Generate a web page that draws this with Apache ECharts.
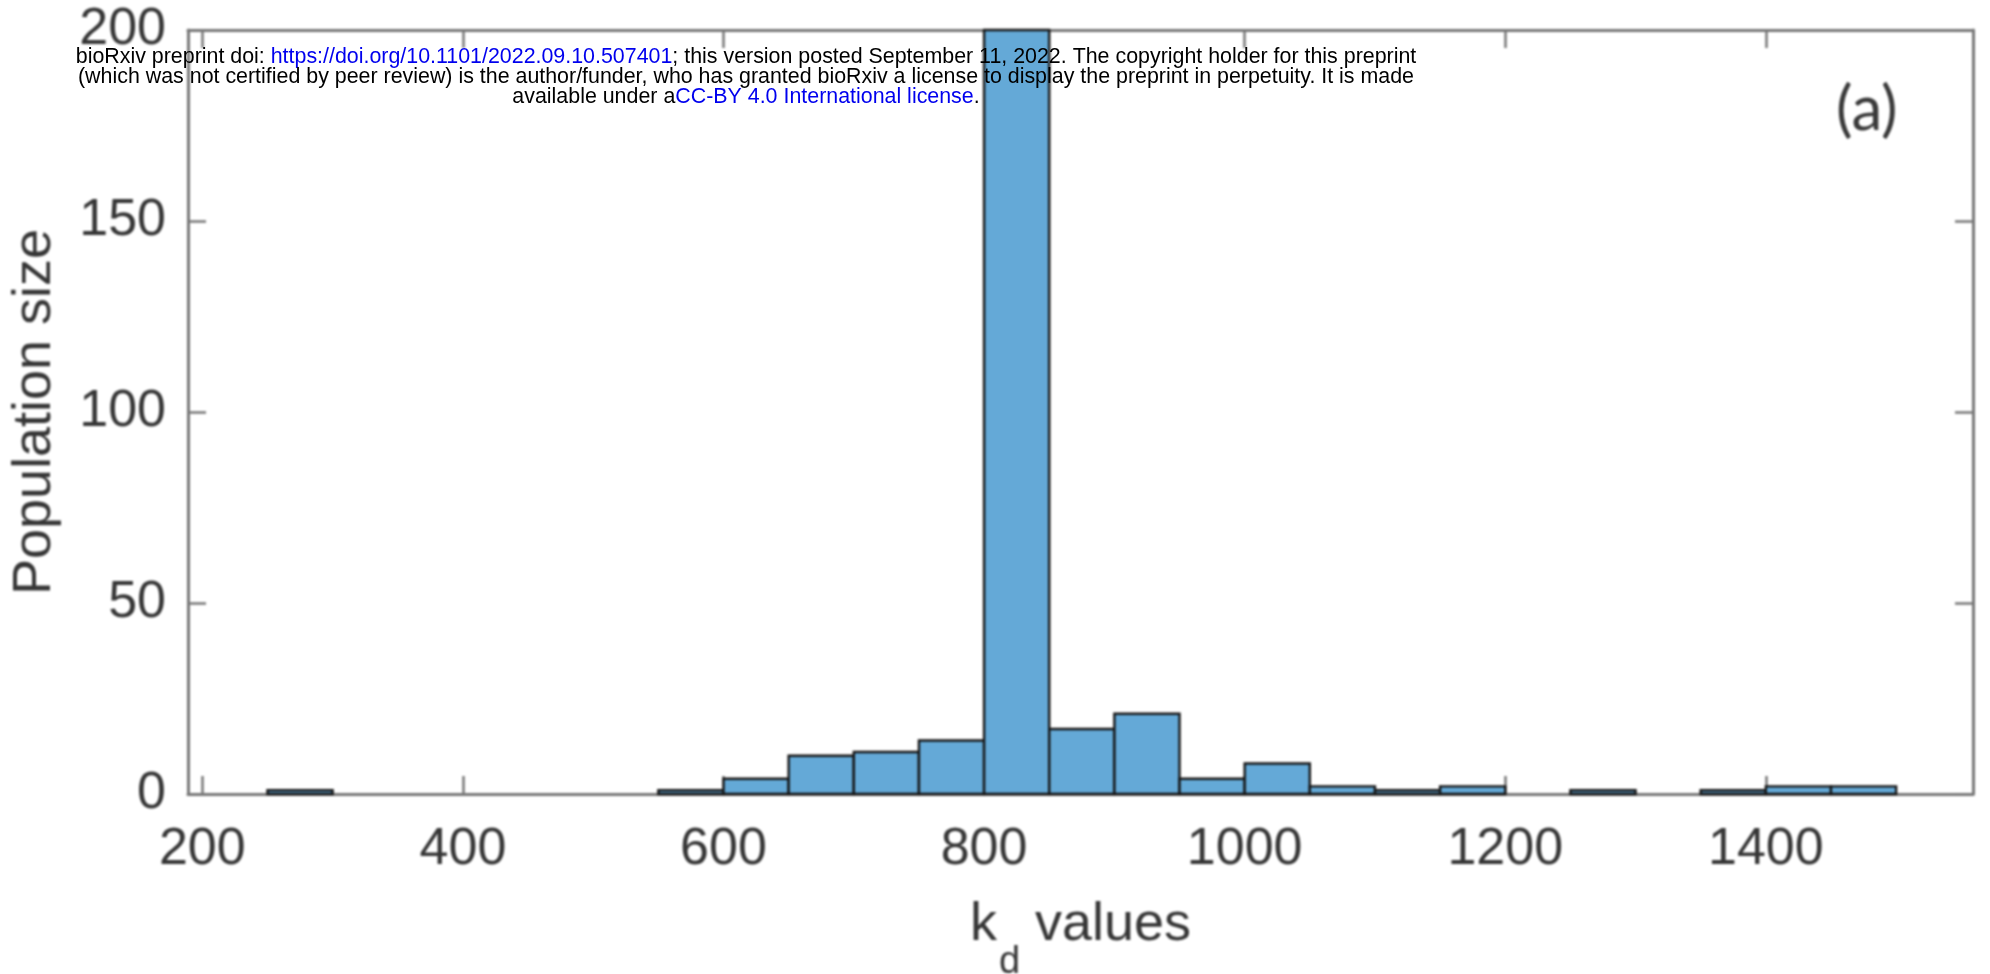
<!DOCTYPE html>
<html>
<head>
<meta charset="utf-8">
<title>Population size by k_d value</title>
<script src="https://cdn.jsdelivr.net/npm/echarts@6/dist/echarts.min.js"></script>
<style>
  html, body { margin: 0; padding: 0; background: #ffffff; }
  #stage { position: relative; width: 1990px; height: 974px; }
  #chart { position: absolute; left: 0; top: 0; width: 1990px; height: 974px; filter: blur(0.9px); }
  #stamp { position: absolute; left: 0; top: 0; width: 1990px; height: 974px; pointer-events: none; }
</style>
</head>
<body>
<div id="stage">
  <div id="chart"></div>
  <div id="stamp"></div>
</div>
<script>
// Histogram of k_d values: left edge of each occupied bin and its count
const binWidth = 50;
const binStarts = [250, 550, 600, 650, 700, 750, 800, 850, 900, 950, 1000, 1050, 1100, 1150, 1250, 1350, 1400, 1450];
const counts    = [1,   1,   4,   10,  11,  14,  200, 17,  21,  4,   8,    2,    1,    2,    1,    1,    2,    2];

// Axis limits and tick positions
const xLimits = [189, 1559];
const xTicks = [200, 400, 600, 800, 1000, 1200, 1400];
const yLimits = [0, 200];
const yStep = 50;

const xTitle = 'k';
const xTitleSub = 'd';
const xTitleRest = ' values';
const yTitle = 'Population size';
const panelTag = '(a)';

const stampLines = [
  ['bioRxiv preprint doi: ', 'https://doi.org/10.1101/2022.09.10.507401', '; this version posted September 11, 2022. The copyright holder for this preprint'],
  ['(which was not certified by peer review) is the author/funder, who has granted bioRxiv a license to display the preprint in perpetuity. It is made', '', ''],
  ['available under a', 'CC-BY 4.0 International license', '.']
];

const AX = '#777777';
const TXT = '#363636';
const FONT = '"Liberation Sans", Arial, Helvetica, sans-serif';

const bins = binStarts.map((s, i) => [s, s + binWidth, counts[i]]);

const frameAxis = {
  type: 'value',
  axisLine: { show: true, onZero: false, lineStyle: { color: AX, width: 3 } },
  axisTick: { show: true, inside: true, length: 18, lineStyle: { color: AX, width: 2.5 } },
  splitLine: { show: false }
};

const chart = echarts.init(document.getElementById('chart'), null, { renderer: 'canvas' });
chart.setOption({
  animation: false,
  backgroundColor: '#ffffff',
  grid: { left: 188, right: 17, top: 30, bottom: 180, containLabel: false, outerBoundsMode: 'none' },
  xAxis: [
    Object.assign({}, frameAxis, {
      position: 'bottom',
      min: xLimits[0], max: xLimits[1],
      axisTick: Object.assign({}, frameAxis.axisTick, { customValues: xTicks }),
      axisLabel: {
        customValues: xTicks, fontSize: 52, fontFamily: FONT, color: TXT, margin: 30,
        formatter: function (v) { return String(v); }
      },
      name: '{k|' + xTitle + '}{d|' + xTitleSub + '}{v|' + xTitleRest + '}',
      nameLocation: 'middle',
      nameGap: 104,
      nameTextStyle: {
        rich: {
          k: { fontSize: 54, fontFamily: FONT, color: TXT, verticalAlign: 'top' },
          d: { fontSize: 38, fontFamily: FONT, color: TXT, padding: [46, 0, 0, 2], verticalAlign: 'top' },
          v: { fontSize: 54, fontFamily: FONT, color: TXT, verticalAlign: 'top' }
        }
      }
    }),
    Object.assign({}, frameAxis, {
      position: 'top',
      min: xLimits[0], max: xLimits[1],
      axisTick: Object.assign({}, frameAxis.axisTick, { customValues: xTicks }),
      axisLabel: { show: false }
    })
  ],
  yAxis: [
    Object.assign({}, frameAxis, {
      position: 'left',
      min: yLimits[0], max: yLimits[1], interval: yStep,
      axisLabel: { fontSize: 52, fontFamily: FONT, color: TXT, margin: 22 },
      name: yTitle,
      nameLocation: 'middle',
      nameGap: 126,
      nameTextStyle: { fontSize: 54, fontFamily: FONT, color: TXT }
    }),
    Object.assign({}, frameAxis, {
      position: 'right',
      min: yLimits[0], max: yLimits[1], interval: yStep,
      axisLabel: { show: false }
    })
  ],
  series: [{
    type: 'custom',
    xAxisIndex: 0,
    yAxisIndex: 0,
    data: bins,
    encode: { x: [0, 1], y: 2 },
    renderItem: function (params, api) {
      const topLeft = api.coord([api.value(0), api.value(2)]);
      const bottomRight = api.coord([api.value(1), 0]);
      return {
        type: 'rect',
        shape: {
          x: topLeft[0],
          y: topLeft[1],
          width: bottomRight[0] - topLeft[0],
          height: bottomRight[1] - topLeft[1]
        },
        style: { fill: '#64a9d7', stroke: '#151515', lineWidth: 2.4 }
      };
    }
  }],
  graphic: [{
    type: 'text',
    left: 1836,
    top: 79,
    style: { text: panelTag, fontSize: 62, fontFamily: 'Lato, "Open Sans", sans-serif', fill: '#3a3a3a' }
  }]
});

// Preprint stamp across the top
const stamp = echarts.init(document.getElementById('stamp'), null, { renderer: 'canvas' });
stamp.setOption({
  animation: false,
  graphic: stampLines.map((parts, i) => ({
    type: 'text',
    x: 746,
    y: 57 + i * 20,
    style: {
      text: '{n|' + parts[0] + '}' + (parts[1] ? '{l|' + parts[1] + '}' : '') + (parts[2] ? '{n|' + parts[2] + '}' : ''),
      align: 'center',
      verticalAlign: 'middle',
      rich: {
        n: { fontSize: 21.4, fontFamily: FONT, fill: '#000000' },
        l: { fontSize: 21.4, fontFamily: FONT, fill: '#0000ee' }
      }
    }
  }))
});
</script>
</body>
</html>
